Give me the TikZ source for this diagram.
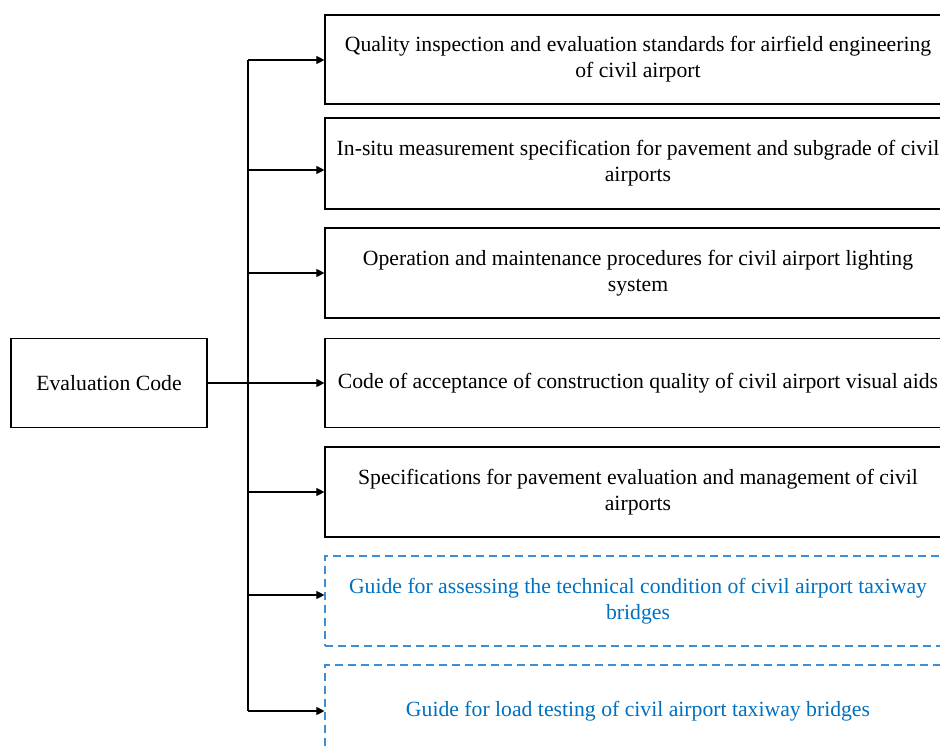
\documentclass[tikz,border=0pt]{standalone}
\usepackage{fontspec}
\setmainfont{Liberation Serif}
\usetikzlibrary{arrows.meta}
\definecolor{linkblue}{HTML}{0070C0}
\definecolor{dashblue}{HTML}{3A8FD6}
\begin{document}
\begin{tikzpicture}[x=1pt,y=-1pt,
  box/.style={draw=black,line width=1.15pt,rectangle,minimum width=626pt,minimum height=89pt,align=center,font=\fontsize{21.7}{26}\selectfont,inner sep=0pt},
  guidebox/.style={box,draw=dashblue,dash pattern=on 8pt off 5pt,text=linkblue},
  arr/.style={line width=1.1pt,-{Triangle[length=8pt,width=8pt]}},
  ln/.style={line width=1.1pt}]
\useasboundingbox (0,0) rectangle (940,749);
\clip (0,0) rectangle (940,749);
\node[box,minimum width=196pt] (ec) at (109,383) {Evaluation Code};
\node[box] (b1) at (638,59.5) {Quality inspection and evaluation standards for airfield engineering\\of civil airport};
\node[box,minimum height=91pt] (b2) at (638,163.5) {In-situ measurement specification for pavement and subgrade of civil\\airports};
\node[box,minimum height=90pt] (b3) at (638,273) {Operation and maintenance procedures for civil airport lighting\\system};
\node[box] (b4) at (638,383) {Code of acceptance of construction quality of civil airport visual aids};
\node[box,minimum height=90pt] (b5) at (638,492) {Specifications for pavement evaluation and management of civil\\airports};
\node[guidebox,minimum height=90pt] (b6) at (638,601) {Guide for assessing the technical condition of civil airport taxiway\\bridges};
\node[guidebox,minimum height=92pt] (b7) at (638,711) {Guide for load testing of civil airport taxiway bridges};
\coordinate (t1) at (248,60);
\coordinate (t2) at (248,170);
\coordinate (t3) at (248,273);
\coordinate (t5) at (248,492);
\coordinate (t6) at (248,595);
\coordinate (t7) at (248,711);
\draw[ln] (t1) -- (t7);
\draw[arr] (ec.east) -- (b4.west);
\draw[arr] (t1) -- (t1 -| b1.west);
\draw[arr] (t2) -- (t2 -| b2.west);
\draw[arr] (t3) -- (t3 -| b3.west);
\draw[arr] (t5) -- (t5 -| b5.west);
\draw[arr] (t6) -- (t6 -| b6.west);
\draw[arr] (t7) -- (t7 -| b7.west);
\end{tikzpicture}
\end{document}
